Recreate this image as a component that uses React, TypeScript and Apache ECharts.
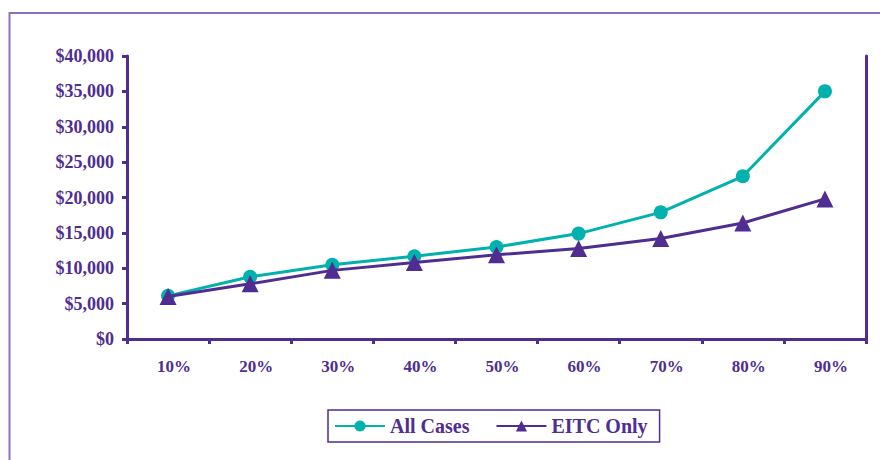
import React, { useEffect, useRef } from "react";
import * as echarts from "echarts";

const categories = ["10%", "20%", "30%", "40%", "50%", "60%", "70%", "80%", "90%"];
const allCases = [6100, 8800, 10500, 11700, 13000, 14900, 17900, 23000, 35000];
const eitcOnly = [6000, 7800, 9700, 10800, 11900, 12800, 14200, 16400, 19800];
const seriesNames = ["All Cases", "EITC Only"];

const PURPLE = "#4f2d91";
const TEAL = "#00b1ad";
const FONT = "'Liberation Serif', 'DejaVu Serif', serif";

export default function App() {
  const ref = useRef<HTMLDivElement>(null);
  useEffect(() => {
    if (!ref.current) return;
    const chart = echarts.init(ref.current, undefined, { renderer: "svg" });
    chart.setOption({
      animation: false,
      backgroundColor: "#ffffff",
      textStyle: { fontFamily: FONT },
      graphic: [
        {
          type: "rect",
          shape: { x: 9.5, y: 13, width: 900, height: 500 },
          style: { fill: "none", stroke: "#8a70bd", lineWidth: 2 },
          silent: true,
        },
      ],
      grid: { left: 127, right: 14, top: 56, bottom: 121 },
      legend: {
        data: seriesNames,
        left: 328,
        top: 410,
        padding: [6, 12, 6, 6],
        borderColor: PURPLE,
        borderWidth: 1.5,
        itemWidth: 50,
        itemHeight: 14,
        itemGap: 26,
        textStyle: { fontFamily: FONT, fontSize: 20, fontWeight: "bold", color: PURPLE },
      },
      xAxis: {
        type: "category",
        data: categories,
        boundaryGap: true,
        axisLine: { lineStyle: { color: PURPLE, width: 3 } },
        axisTick: { show: true, length: 5, lineStyle: { color: PURPLE, width: 3 } },
        axisLabel: {
          margin: 19,
          padding: [0, 0, 0, 12],
          fontFamily: FONT,
          fontSize: 17,
          fontWeight: "bold",
          color: PURPLE,
        },
        splitLine: { show: false },
      },
      yAxis: [
        {
          type: "value",
          min: 0,
          max: 40000,
          interval: 5000,
          axisLine: { show: true, lineStyle: { color: PURPLE, width: 3 } },
          axisTick: { show: true, length: 5, lineStyle: { color: PURPLE, width: 3 } },
          axisLabel: {
            margin: 13,
            fontFamily: FONT,
            fontSize: 18,
            fontWeight: "bold",
            color: PURPLE,
            formatter: (v: number) => "$" + v.toLocaleString("en-US"),
          },
          splitLine: { show: false },
        },
        {
          type: "value",
          position: "right",
          min: 0,
          max: 40000,
          interval: 5000,
          axisLine: { show: true, lineStyle: { color: PURPLE, width: 3 } },
          axisTick: { show: false },
          axisLabel: { show: false },
          splitLine: { show: false },
        },
      ],
      series: [
        {
          name: seriesNames[0],
          type: "line",
          data: allCases,
          symbol: "circle",
          symbolSize: 14,
          lineStyle: { color: TEAL, width: 3 },
          itemStyle: { color: TEAL },
          z: 2,
        },
        {
          name: seriesNames[1],
          type: "line",
          data: eitcOnly,
          symbol: "triangle",
          symbolSize: 17,
          lineStyle: { color: PURPLE, width: 3 },
          itemStyle: { color: PURPLE },
          z: 3,
        },
      ],
    });
    return () => chart.dispose();
  }, []);
  return (
    <div
      ref={ref}
      style={{ position: "fixed", left: 0, top: 0, width: 880, height: 460 }}
    />
  );
}
